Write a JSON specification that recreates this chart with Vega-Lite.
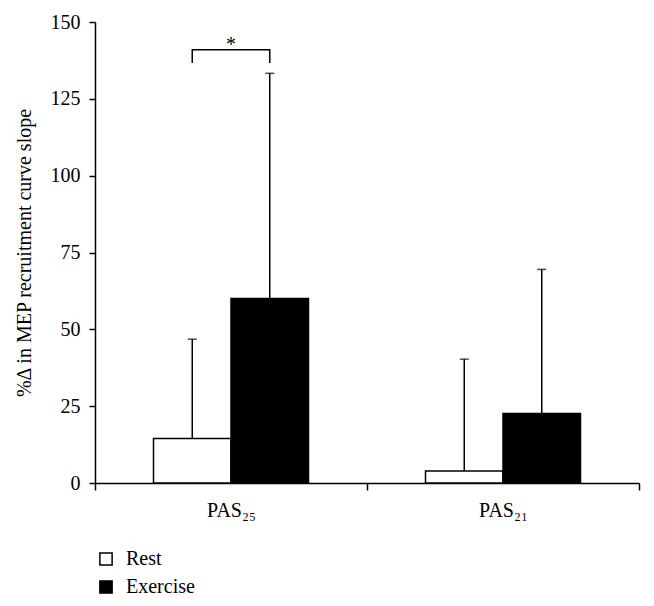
{
  "$schema": "https://vega.github.io/schema/vega-lite/v6.json",
  "autosize": "none",
  "width": 544,
  "height": 461,
  "padding": {"left": 95, "top": 22, "right": 15, "bottom": 123},
  "config": {
    "view": {"stroke": null},
    "font": "Liberation Serif",
    "axis": {"domainColor": "black", "domainWidth": 1.5, "tickColor": "black", "tickWidth": 1.5, "labelColor": "black", "titleColor": "black", "grid": false, "labelFont": "Liberation Serif", "titleFont": "Liberation Serif", "titleFontWeight": "normal"}
  },
  "datasets": {
    "bars": [
      {"group": "PAS25", "condition": "Rest", "value": 14.5, "upper": 46.8},
      {"group": "PAS25", "condition": "Exercise", "value": 60, "upper": 133.3},
      {"group": "PAS21", "condition": "Rest", "value": 3.9, "upper": 40.3},
      {"group": "PAS21", "condition": "Exercise", "value": 22.6, "upper": 69.5}
    ],
    "bracket": [
      {"group": "PAS25", "condition": "Rest", "y": 136.7, "order": 1},
      {"group": "PAS25", "condition": "Rest", "y": 141, "order": 2},
      {"group": "PAS25", "condition": "Exercise", "y": 141, "order": 3},
      {"group": "PAS25", "condition": "Exercise", "y": 136.7, "order": 4}
    ],
    "star": [{"group": "PAS25", "y": 143.5, "label": "*"}]
  },
  "layer": [
    {
      "data": {"name": "bars"},
      "mark": {"type": "bar", "stroke": "black", "strokeWidth": 1.5},
      "encoding": {
        "x": {"field": "group", "type": "nominal", "sort": ["PAS25", "PAS21"],
          "scale": {"domain": ["PAS25", "PAS21"], "paddingInner": 0, "paddingOuter": 0},
          "axis": {"title": null, "tickBand": "extent", "labelAngle": 0, "labelFontSize": 20, "labelPadding": 10, "tickSize": 7,
            "labelExpr": "datum.value == 'PAS25' ? 'PAS₂₅' : (datum.value == 'PAS21' ? 'PAS₂₁' : '')"}},
        "xOffset": {"field": "condition", "type": "nominal",
          "scale": {"domain": ["Rest", "Exercise"], "paddingInner": 0, "paddingOuter": 0.755}},
        "y": {"field": "value", "type": "quantitative",
          "scale": {"domain": [0, 150], "nice": false},
          "axis": {"title": "%Δ in MEP recruitment curve slope", "values": [0, 25, 50, 75, 100, 125, 150], "labelFontSize": 20, "titleFontSize": 20, "tickSize": 6, "labelPadding": 9, "titlePadding": 16}},
        "color": {"field": "condition", "type": "nominal",
          "scale": {"domain": ["Rest", "Exercise"], "range": ["white", "black"]},
          "legend": {"title": null, "orient": "none", "legendX": 1, "legendY": 527, "symbolType": "square", "symbolSize": 150, "symbolStrokeColor": "black", "symbolStrokeWidth": 1.5, "labelFontSize": 20, "labelColor": "black", "labelFont": "Liberation Serif", "rowPadding": 8, "labelOffset": 10}}
      }
    },
    {
      "data": {"name": "bars"},
      "mark": {"type": "rule", "color": "black", "strokeWidth": 1.5},
      "encoding": {
        "x": {"field": "group", "type": "nominal"},
        "xOffset": {"field": "condition", "type": "nominal"},
        "y": {"field": "value", "type": "quantitative"},
        "y2": {"field": "upper"}
      }
    },
    {
      "data": {"name": "bars"},
      "mark": {"type": "tick", "color": "black", "orient": "horizontal", "size": 9, "thickness": 1.5},
      "encoding": {
        "x": {"field": "group", "type": "nominal"},
        "xOffset": {"field": "condition", "type": "nominal"},
        "y": {"field": "upper", "type": "quantitative"}
      }
    },
    {
      "data": {"name": "bracket"},
      "mark": {"type": "line", "color": "black", "strokeWidth": 1.5},
      "encoding": {
        "x": {"field": "group", "type": "nominal"},
        "xOffset": {"field": "condition", "type": "nominal"},
        "y": {"field": "y", "type": "quantitative"},
        "order": {"field": "order", "type": "quantitative"}
      }
    },
    {
      "data": {"name": "star"},
      "mark": {"type": "text", "color": "black", "fontSize": 20, "baseline": "middle", "dy": 3},
      "encoding": {
        "x": {"field": "group", "type": "nominal"},
        "y": {"field": "y", "type": "quantitative"},
        "text": {"field": "label"}
      }
    }
  ]
}
